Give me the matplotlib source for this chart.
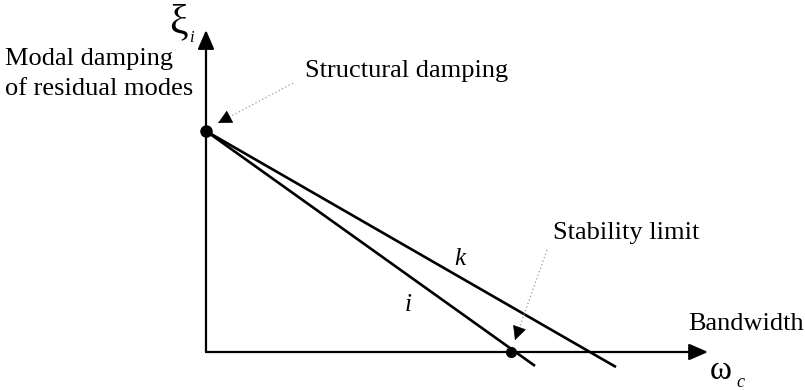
import matplotlib.pyplot as plt

plt.rcParams["font.family"] = ["Liberation Serif", "DejaVu Serif"]

# damping vs. bandwidth, arbitrary units
xi_structural = 1.0
bandwidth_i = [0.0, 3.29]
damping_i = [1.0, -0.063]
bandwidth_k = [0.0, 4.10]
damping_k = [1.0, -0.068]
stability_point = (3.05, 0.0)
axis_x_end = 5.02
axis_y_end = 1.457

fig = plt.figure(figsize=(8.05, 3.9), dpi=100)
ax = fig.add_axes([0, 0, 1, 1])
ax.set_xlim(-2.06, 5.99)
ax.set_ylim(-0.172, 1.593)
ax.axis("off")

# coordinate axes with filled arrowheads
axis_arrow = dict(arrowstyle="-|>,head_length=1.15,head_width=0.5",
                  color="black", lw=1.6, shrinkA=0, shrinkB=0, mutation_scale=10)
ax.annotate("", xy=(axis_x_end, 0), xytext=(0, 0), arrowprops=axis_arrow)
ax.annotate("", xy=(0, axis_y_end), xytext=(0, 0), arrowprops=axis_arrow)

# the two damping lines
ax.plot(bandwidth_i, damping_i, color="black", lw=1.9, solid_capstyle="butt")
ax.plot(bandwidth_k, damping_k, color="black", lw=1.9, solid_capstyle="butt")
ax.plot([0], [xi_structural], "o", color="black", ms=8)
ax.plot([stability_point[0]], [stability_point[1]], "o", color="black", ms=7)


def pointer(start, tip):
    # light dotted leader with a small solid head
    ax.plot([start[0], tip[0]], [start[1], tip[1]], color="0.6", lw=0.9,
            linestyle=(0, (1, 2)))
    back = (tip[0] + 0.06 * (start[0] - tip[0]), tip[1] + 0.06 * (start[1] - tip[1]))
    ax.annotate("", xy=tip, xytext=back,
                arrowprops=dict(arrowstyle="-|>,head_length=0.9,head_width=0.45",
                                color="black", lw=0.5, shrinkA=0, shrinkB=0,
                                mutation_scale=10))


pointer((0.87, 1.217), (0.12, 1.036))
pointer((3.41, 0.462), (3.09, 0.054))

# labels
ax.text(0.99, 1.244, "Structural damping", fontsize=19, ha="left", va="baseline")
ax.text(3.47, 0.538, "Stability limit", fontsize=19, ha="left", va="center")
ax.text(-2.01, 1.325, "Modal damping", fontsize=19, ha="left", va="center")
ax.text(-2.01, 1.188, "of residual modes", fontsize=19, ha="left", va="center")
ax.text(-0.275, 1.49, "\u03be", fontsize=30, ha="center", va="center")
ax.text(-0.145, 1.42, "i", fontsize=12, style="italic", ha="center", va="center")
ax.text(4.82, 0.127, "Bandwidth", fontsize=19, ha="left", va="center")
ax.text(5.15, -0.086, "\u03c9", fontsize=24, ha="center", va="center")
ax.text(5.34, -0.136, "c", fontsize=13, style="italic", ha="center", va="center")
ax.text(2.54, 0.42, "k", fontsize=18, style="italic", ha="center", va="center")
ax.text(2.02, 0.213, "i", fontsize=18, style="italic", ha="center", va="center")

fig.savefig("out.png", dpi=100)
